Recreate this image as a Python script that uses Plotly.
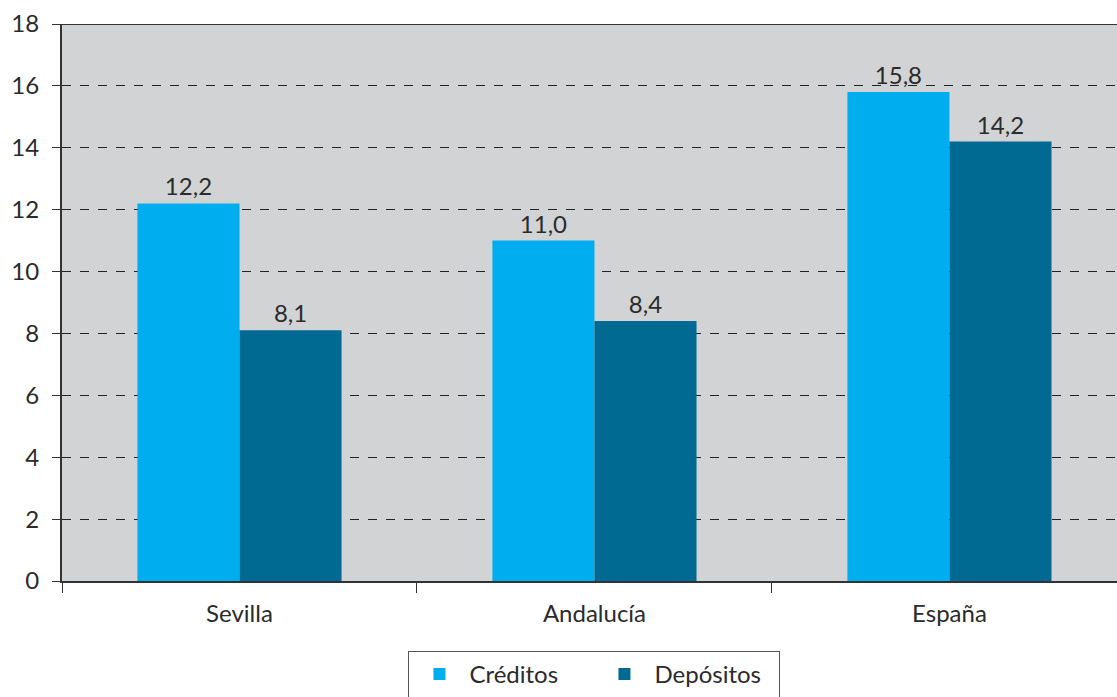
import plotly.graph_objects as go

categories = ["Sevilla", "Andalucía", "España"]
creditos = [12.2, 11.0, 15.8]
depositos = [8.1, 8.4, 14.2]
y_ticks = [0, 2, 4, 6, 8, 10, 12, 14, 16, 18]

FONT = "Lato"
TXT = "#2b2b2b"
FS = 24

fig = go.Figure()
fig.add_trace(go.Bar(
    x=categories, y=creditos, name="Créditos",
    marker=dict(color="#00aeef", line=dict(width=0)),
    texttemplate="%{y:.1f}", textposition="outside",
    textfont=dict(family=FONT, size=FS, color=TXT), cliponaxis=False,
))
fig.add_trace(go.Bar(
    x=categories, y=depositos, name="Depósitos",
    marker=dict(color="#006a93", line=dict(width=0)),
    texttemplate="%{y:.1f}", textposition="outside",
    textfont=dict(family=FONT, size=FS, color=TXT), cliponaxis=False,
))

fig.update_layout(
    width=1117, height=697,
    margin=dict(l=62, r=0, t=24, b=116, autoexpand=False),
    paper_bgcolor="white",
    plot_bgcolor="#d1d3d4",
    separators=",.",
    barmode="group", bargap=0.425, bargroupgap=0,
    font=dict(family=FONT, size=FS, color=TXT),
    showlegend=True,
    legend=dict(
        orientation="h", x=0.5047, xanchor="center", y=-0.1257, yanchor="top",
        bordercolor="#555555", borderwidth=1, bgcolor="white",
        font=dict(family=FONT, size=FS, color=TXT),
        itemwidth=50, traceorder="normal", entrywidth=120,
    ),
    xaxis=dict(
        type="category", range=[-0.5, 2.472], automargin=False,
        tickson="boundaries", ticks="outside", ticklen=10, tickcolor="#333333",
        showline=True, linecolor="#333333", linewidth=2, mirror=False,
        showgrid=False, tickfont=dict(family=FONT, size=FS, color=TXT),
        ticklabelstandoff=10,
    ),
    yaxis=dict(
        range=[0, 18], tickvals=y_ticks, automargin=False,
        ticks="outside", ticklen=8, tickcolor="#333333",
        showline=True, linecolor="#333333", linewidth=2,
        showgrid=True, gridcolor="#222222", gridwidth=1, griddash="9px,9px",
        zeroline=False,
        tickfont=dict(family=FONT, size=FS, color=TXT),
        ticklabelstandoff=8,
    ),
)
# top border line at 18 (solid)
fig.add_shape(type="line", xref="paper", yref="y", x0=0, x1=1, y0=18, y1=18,
              line=dict(color="#333333", width=2))

fig.write_html(
    "out.html",
    config={"displayModeBar": False},
    post_script="document.body.style.margin='0';document.body.style.overflow='hidden';",
)
